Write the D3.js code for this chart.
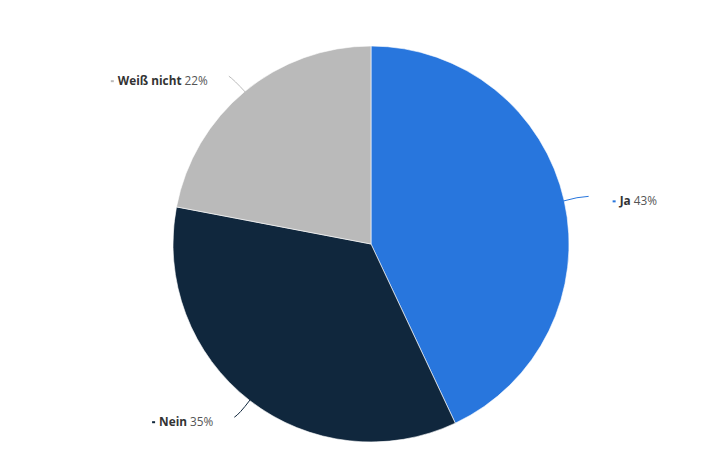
<!DOCTYPE html>
<html>
<head>
<meta charset="utf-8">
<script src="https://cdn.jsdelivr.net/npm/d3@7"></script>
<style>
  html, body { margin: 0; padding: 0; background: #fff; }
  svg { display: block; }
  text { font-family: "Open Sans", "Noto Sans", sans-serif; font-size: 11.8px; }
</style>
</head>
<body>
<svg id="chart" width="728" height="476"></svg>
<script>
const categories = ['Ja', 'Nein', 'Weiß nicht'];
const shares     = [43, 35, 22];
const colors     = ['#2876dd', '#10273d', '#bababa'];

const width = 728, height = 476;
const cx = 371, cy = 244, radius = 198;

const svg = d3.select('#chart');
const g = svg.append('g').attr('transform', `translate(${cx},${cy})`);

const slices = d3.pie().sort(null).value(d => d)(shares);
const arc = d3.arc().innerRadius(0).outerRadius(radius);

// slices
g.selectAll('path.slice')
  .data(slices)
  .join('path')
  .attr('class', 'slice')
  .attr('d', arc)
  .attr('fill', (d, i) => colors[i])
  .attr('stroke', '#fff')
  .attr('stroke-width', 0.6);

// leader lines + labels
slices.forEach((d, i) => {
  const mid = (d.startAngle + d.endAngle) / 2;
  const dx = Math.sin(mid), dy = -Math.cos(mid);
  const edge = [dx * (radius - 1), dy * (radius - 1)];
  const outer = [dx * (radius + 25), dy * (radius + 25) + (dx < 0 && dy < 0 ? 4 : dy > 0 ? -3 : 1)];
  const ctrl = [dx * (radius + 14) + (dx > 0 ? 0 : -2), dy * (radius + 14) + (dy < 0 ? -1 : 3)];

  g.append('path')
    .attr('d', `M${edge[0]},${edge[1]}Q${ctrl[0]},${ctrl[1]} ${outer[0]},${outer[1]}`)
    .attr('fill', 'none')
    .attr('stroke', i === 0 ? colors[0] : (i === 1 ? colors[1] : '#bbb'))
    .attr('stroke-width', 1);

  const right = dx > 0;
  const ly = outer[1] + 5;
  const label = g.append('text')
    .attr('y', ly)
    .attr('dy', '0.35em')
    .attr('text-anchor', right ? 'start' : 'end')
    .attr('x', right ? outer[0] + 31 : outer[0] - 21);
  label.append('tspan').attr('font-weight', 'bold').attr('fill', '#333').text(categories[i]);
  label.append('tspan').attr('fill', '#555').text(' ' + shares[i] + '%');

  // small colored marker before the label
  const tw = label.node().getComputedTextLength();
  const lx = right ? outer[0] + 31 : outer[0] - 21 - tw;
  g.append('rect')
    .attr('x', lx - 7)
    .attr('y', ly - 1)
    .attr('width', 3)
    .attr('height', 2)
    .attr('fill', colors[i]);
});
</script>
</body>
</html>
